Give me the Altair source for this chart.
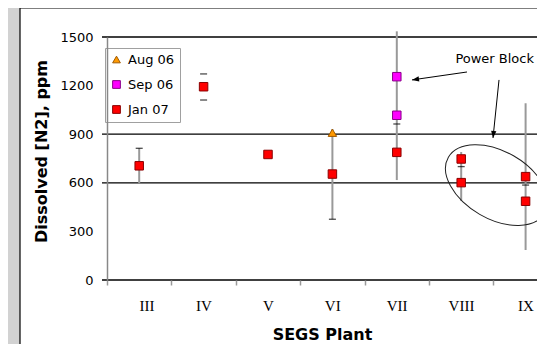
import altair as alt
import pandas as pd

# ---- data ----
plants = ["III", "IV", "V", "VI", "VII", "VIII", "IX"]
series = ["Aug 06", "Sep 06", "Jan 07"]
series_fill = ["#FF9900", "#FF00FF", "#FF0000"]
series_stroke = ["#A05A00", "#8A008A", "#8A0000"]

pt_plant = ["VI", "VII", "VII", "III", "IV", "V", "VI", "VII", "VIII", "VIII", "IX", "IX"]
pt_series = ["Aug 06", "Sep 06", "Sep 06", "Jan 07", "Jan 07", "Jan 07", "Jan 07",
             "Jan 07", "Jan 07", "Jan 07", "Jan 07", "Jan 07"]
pt_value = [909, 1255, 1017, 705, 1193, 775, 654, 788, 747, 601, 638, 486]

bar_plant = ["III", "VI", "VII", "VIII", "IX"]
bar_low = [597, 375, 617, 488, 185]
bar_high = [813, 932, 1535, 790, 1091]

cap_plant = ["III", "IV", "IV", "VI", "VII", "VIII", "IX"]
cap_value = [813, 1272, 1111, 375, 963, 700, 586]

grid_values = [0, 600, 900, 1500]
y_ticks = [0, 300, 600, 900, 1200, 1500]

# annotation
note_text = ["Power Block"]
note_x = [6.52]
note_y = [1362]
arrow_x1 = [6.09, 6.587]
arrow_y1 = [1284, 1235]
arrow_x2 = [5.236, 6.494]
arrow_y2 = [1235, 877]
arrow_angle = [262, 186]
ellipse_x = [6.55]
ellipse_y = [586]

W, H = 430, 243


def idx(p):
    return plants.index(p) + 1


pts = pd.DataFrame({"x": [idx(p) for p in pt_plant], "series": pt_series, "v": pt_value})
bars = pd.DataFrame({"x": [idx(p) for p in bar_plant], "lo": bar_low, "hi": bar_high})
caps = pd.DataFrame({"x": [idx(p) for p in cap_plant], "v": cap_value})
grid = pd.DataFrame({"v": grid_values})
notes = pd.DataFrame({"x": note_x, "y": note_y, "t": note_text})
arrows = pd.DataFrame({"x": arrow_x1, "y": arrow_y1, "x2": arrow_x2, "y2": arrow_y2, "a": arrow_angle})
ell = pd.DataFrame({"x": ellipse_x, "y": ellipse_y})

xmax = 0.5 + W / 64.4
xscale = alt.Scale(domain=[0.5, xmax], nice=False, zero=False)
yscale = alt.Scale(domain=[0, 1500], nice=False)

label_expr = "[" + ",".join("'%s'" % p for p in plants) + "][round(datum.value - 0.5)]"

x_axis = alt.Axis(
    values=[i + 0.5 for i in range(len(plants))],
    labelExpr=label_expr,
    labelOffset=32,
    labelFont="Liberation Serif",
    labelFontSize=15,
    labelColor="black",
    labelPadding=13,
    tickColor="#999999",
    tickSize=5,
    tickWidth=1.5,
    domain=False,
    grid=False,
    title="SEGS Plant",
    titleFont="DejaVu Sans",
    titleFontSize=16,
    titleFontWeight="bold",
    titleColor="black",
    titlePadding=13,
    zindex=1,
)
y_axis = alt.Axis(
    values=y_ticks,
    format="d",
    ticks=False,
    tickSize=0,
    labelPadding=14,
    labelFont="DejaVu Sans",
    labelFontSize=13,
    labelColor="black",
    domainColor="#888888",
    domainWidth=1.5,
    grid=False,
    title="Dissolved [N2], ppm",
    titleFont="DejaVu Sans",
    titleFontSize=16,
    titleFontWeight="bold",
    titleColor="black",
    titlePadding=10,
    titleY=114,
    zindex=1,
)

panel = alt.Chart(grid).mark_rect(fill="white", stroke="black", strokeWidth=1.2).encode(
    x=alt.value(-87), x2=alt.value(W + 20), y=alt.value(-29), y2=alt.value(H + 120)
).transform_filter("datum.v == 0")

grid_rules = alt.Chart(grid).mark_rule(color="black", strokeWidth=1.3).encode(
    y=alt.Y("v:Q", scale=yscale, axis=y_axis),
    x=alt.value(-5), x2=alt.value(W + 5),
)

err = alt.Chart(bars).mark_rule(color="#999999", strokeWidth=2).encode(
    x=alt.X("x:Q", scale=xscale, axis=x_axis),
    y=alt.Y("lo:Q", scale=yscale),
    y2="hi:Q",
)

cap = alt.Chart(caps).mark_tick(orient="horizontal", color="black", size=7, thickness=1.3).encode(
    x=alt.X("x:Q", scale=xscale),
    y=alt.Y("v:Q", scale=yscale),
)

points = alt.Chart(pts).mark_point(filled=True, size=72, strokeWidth=1, opacity=1).encode(
    x=alt.X("x:Q", scale=xscale),
    y=alt.Y("v:Q", scale=yscale),
    color=alt.Color("series:N", scale=alt.Scale(domain=series, range=series_fill),
                    legend=alt.Legend(title=None)),
    shape=alt.Shape("series:N", scale=alt.Scale(domain=series, range=["triangle-up", "square", "square"]),
                    legend=alt.Legend(title=None)),
    stroke=alt.Stroke("series:N", scale=alt.Scale(domain=series, range=series_stroke), legend=None),
)

ellipse_path = ("M-1,0 C-1,-0.335 -0.552,-0.607 0,-0.607 C0.552,-0.607 1,-0.335 1,0 "
                "C1,0.335 0.552,0.607 0,0.607 C-0.552,0.607 -1,0.335 -1,0 Z")
ellipse = alt.Chart(ell).mark_point(shape=ellipse_path, size=12410, angle=30, filled=False,
                                    stroke="#222222", strokeWidth=1, opacity=1).encode(
    x=alt.X("x:Q", scale=xscale),
    y=alt.Y("y:Q", scale=yscale),
)

arrow_lines = alt.Chart(arrows).mark_rule(color="black", strokeWidth=1).encode(
    x=alt.X("x:Q", scale=xscale), y=alt.Y("y:Q", scale=yscale), x2="x2:Q", y2="y2:Q"
)
arrow_heads = alt.Chart(arrows).mark_point(shape="M0,0 L-0.6,1.6 L0.6,1.6 Z", size=77, filled=True,
                                           color="black", opacity=1).encode(
    x=alt.X("x2:Q", scale=xscale), y=alt.Y("y2:Q", scale=yscale), angle=alt.Angle("a:Q", scale=None)
)
note = alt.Chart(notes).mark_text(font="DejaVu Sans", fontSize=13, color="black").encode(
    x=alt.X("x:Q", scale=xscale), y=alt.Y("y:Q", scale=yscale), text="t:N"
)

chart = alt.layer(
    panel, grid_rules, err, cap, points, ellipse, arrow_lines, arrow_heads, note
).properties(
    width=W, height=H,
    autosize=alt.AutoSizeParams(type="none"),
    padding={"left": 99, "top": 29, "right": 0, "bottom": 64},
    background="#d2d2d2",
).configure_view(stroke=None).configure_legend(
    orient="none", legendX=-2, legendY=11,
    strokeColor="#a0a0a0", fillColor="white",
    padding=5, rowPadding=11, labelFont="DejaVu Sans", labelFontSize=13, labelColor="black",
    labelOffset=5, symbolSize=60, symbolStrokeWidth=1,
)

chart.save("out.html", embed_options={"renderer": "svg", "actions": False})
